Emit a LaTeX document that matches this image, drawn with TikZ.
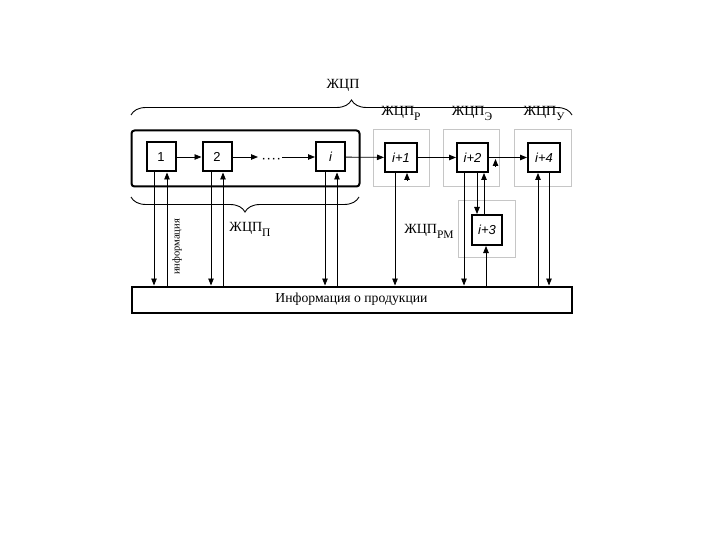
\documentclass[tikz,border=0pt]{standalone}
\usepackage{fontspec}
\setmainfont{Liberation Serif}
\newfontfamily\arialf{Liberation Sans}
\usetikzlibrary{arrows.meta,decorations.pathreplacing,calc}
\begin{document}
\begin{tikzpicture}[x=1pt,y=-1pt,
  blk/.style={draw, line width=2pt, fill=white, minimum width=29pt, minimum height=29pt, inner sep=0pt, font=\arialf\fontsize{13}{13}\selectfont},
  grp/.style={draw=gray!45, line width=0.8pt},
  arr/.style={-{Triangle[length=7pt,width=5.5pt]}, line width=0.8pt},
  lbl/.style={inner sep=0pt, font=\fontsize{14}{14}\selectfont},
  brc/.style={decorate, decoration={brace, amplitude=15pt}, line width=0.9pt}]
\useasboundingbox (0,0) rectangle (720,540);
\fill[white] (0,0) rectangle (720,540);
% group boxes
\draw[grp] (373,129) rectangle (429,186);
\draw[grp] (443,129) rectangle (499,186);
\draw[grp] (514,129) rectangle (571,186);
\draw[grp] (458,200) rectangle (515,257);
% big rounded box
\node[draw, line width=2pt, rounded corners=3pt, minimum width=228pt, minimum height=56pt] (big) at (245.5,158.5) {};
% blocks
\node[blk] (b1) at (161,157) {1};
\node[blk] (b2) at (217,157) {2};
\node[blk] (bi) at (330.5,157) {\itshape i};
\node[blk, minimum width=32pt] (b5) at (401,157.5) {\itshape i+1};
\node[blk, minimum width=31pt] (b6) at (472.5,157.5) {\itshape i+2};
\node[blk, minimum width=32pt] (b8) at (544,157.5) {\itshape i+4};
\node[blk, minimum width=30pt, minimum height=30pt] (b7) at (487,230) {\itshape i+3};
\node[draw, line width=2pt, minimum width=440pt, minimum height=26pt, inner sep=0pt, font=\fontsize{13.7}{13.7}\selectfont] (info) at (351.5,299.5) {Информация о продукции};
% dots
\node[inner sep=0pt, font=\arialf\bfseries\fontsize{10}{10}\selectfont] (dots) at (271.5,160.5) {·\,·\,·\,·};
% horizontal arrows
\draw[arr] (b1) -- (b2);
\draw[arr] (b2) -- (258,157) coordinate (d1);
\draw[arr] (282,157) coordinate (d2) -- (bi);
\draw[arr] (bi) -- (b5);
\draw[arr] (b5) -- (b6);
\draw[arr] (b6) -- (b8);
% braces
\draw[brc] (131,115) -- (572,115);
\draw[brc] (359,197) -- (131,197);
% labels
\node[lbl] (l0) at (343,85) {ЖЦП};
\node[lbl] (l1) at (401,113) {ЖЦП\raisebox{-5pt}{\fontsize{11.5}{11.5}\selectfont Р}};
\node[lbl] (l2) at (472,113) {ЖЦП\raisebox{-5pt}{\fontsize{11.5}{11.5}\selectfont Э}};
\node[lbl] (l3) at (544,113) {ЖЦП\raisebox{-5pt}{\fontsize{11.5}{11.5}\selectfont У}};
\node[lbl] (l4) at (250,229) {ЖЦП\raisebox{-5pt}{\fontsize{11.5}{11.5}\selectfont П}};
\node[lbl] (l5) at (429,231) {ЖЦП\raisebox{-5pt}{\fontsize{11.5}{11.5}\selectfont РМ}};
\node[lbl, rotate=90, font=\fontsize{10.5}{10.5}\selectfont] (inf) at (177,247) {информация};
% verticals for blocks 1,2,i
\draw[arr] ($(b1.south)+(-7,0)$) coordinate (c1) -- (c1 |- info.north);
\draw[arr] ($(b1.south)+(6,0)$) coordinate (c2) (c2 |- info.north) -- (c2);
\draw[arr] ($(b2.south)+(-6,0)$) coordinate (c3) -- (c3 |- info.north);
\draw[arr] ($(b2.south)+(6,0)$) coordinate (c4) (c4 |- info.north) -- (c4);
\draw[arr] ($(bi.south)+(-5.5,0)$) coordinate (c5) -- (c5 |- info.north);
\draw[arr] ($(bi.south)+(6.5,0)$) coordinate (c6) (c6 |- info.north) -- (c6);
% i+1
\draw[arr] ($(b5.south)+(-6,0)$) coordinate (c7) -- (c7 |- info.north);
\draw[arr] ($(b5.south)+(6,7.5)$) coordinate (c8) -- ($(b5.south)+(6,0)$);
% i+2
\draw[arr] ($(b6.south)+(-8.5,0)$) coordinate (c9) -- (c9 |- info.north);
\draw[arr] ($(b6.south)+(4.5,0)$) coordinate (c10) -- (c10 |- b7.north);
\draw[arr] ($(b6.south)+(11.5,0)$) coordinate (c11) (c11 |- b7.north) -- (c11);
\draw[arr] ($(b6.east)+(6.5,9)$) coordinate (c12) -- ($(b6.east)+(6.5,1.5)$);
% i+3
\draw[arr] ($(b7.south)+(-1,0)$) coordinate (c13) (c13 |- info.north) -- (c13);
% i+4
\draw[arr] ($(b8.south)+(-6,0)$) coordinate (c14) (c14 |- info.north) -- (c14);
\draw[arr] ($(b8.south)+(5,0)$) coordinate (c15) -- (c15 |- info.north);
\end{tikzpicture}
\end{document}
